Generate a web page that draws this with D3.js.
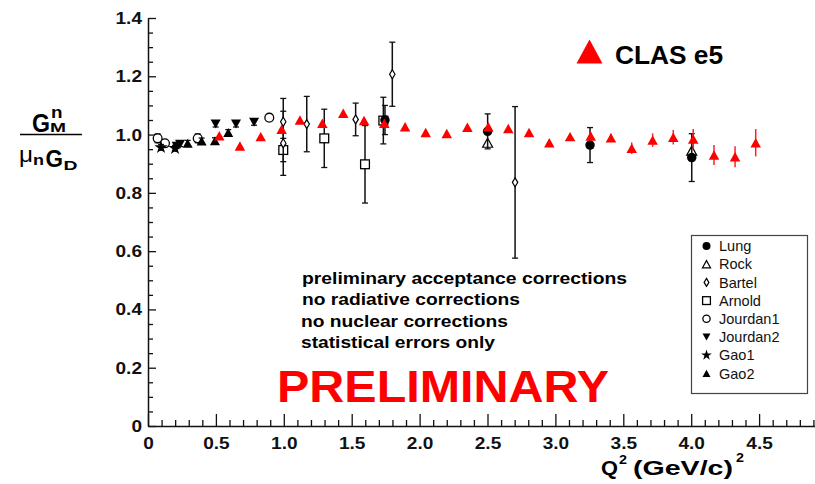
<!DOCTYPE html>
<html><head><meta charset="utf-8">
<script src="https://cdn.jsdelivr.net/npm/d3@7"></script>
<style>
html,body{margin:0;padding:0;background:#fff;}
svg{display:block;font-family:"Liberation Sans",Arial,Helvetica,sans-serif;}
</style></head><body>
<svg id="chart" width="815" height="484"></svg>
<script>
// G_M^n / (mu_n G_D) versus Q^2 (GeV/c)^2

// CLAS e5 (red triangles)
const clasQ2  = [0.525, 0.677, 0.830, 0.984, 1.119, 1.284, 1.438, 1.591, 1.740, 1.893, 2.045, 2.200, 2.352, 2.506, 2.653, 2.806, 2.955, 3.108, 3.260, 3.409, 3.562, 3.716, 3.868, 4.015, 4.168, 4.323, 4.475];
const clasVal = [0.996, 0.961, 0.993, 1.018, 1.050, 1.039, 1.073, 1.048, 1.039, 1.027, 1.007, 1.004, 1.025, 1.027, 1.021, 1.007, 0.972, 0.993, 0.995, 0.989, 0.953, 0.981, 0.991, 0.985, 0.930, 0.924, 0.972];
const clasErr = [0.004, 0.004, 0.004, 0.004, 0.005, 0.005, 0.005, 0.005, 0.006, 0.006, 0.006, 0.007, 0.007, 0.008, 0.008, 0.009, 0.010, 0.011, 0.012, 0.014, 0.020, 0.023, 0.025, 0.034, 0.034, 0.036, 0.047];

// World data
const lungQ2  = [1.745, 2.501, 3.255, 4.004];
const lungVal = [1.050, 1.011, 0.964, 0.921];
const lungErr = [0.050, 0.060, 0.060, 0.082];

const rockQ2  = [2.501, 4.004];
const rockVal = [0.972, 0.945];
const rockErr = [0.000, 0.000];

const bartelQ2  = [0.996, 0.996, 1.169, 1.529, 1.799, 2.703];
const bartelVal = [1.044, 0.970, 1.036, 1.052, 1.207, 0.836];
const bartelErr = [0.080, 0.110, 0.095, 0.056, 0.110, 0.260];

const arnoldQ2  = [0.996, 1.298, 1.598, 1.733];
const arnoldVal = [0.947, 0.987, 0.898, 1.048];
const arnoldErr = [0.040, 0.100, 0.133, 0.080];

const jourdan1Q2  = [0.071, 0.125, 0.366, 0.893];
const jourdan1Val = [0.987, 0.970, 0.987, 1.058];
const jourdan1Err = [0.015, 0.010, 0.015, 0.010];

const jourdan2Q2  = [0.211, 0.236, 0.498, 0.648, 0.781];
const jourdan2Val = [0.960, 0.967, 1.036, 1.036, 1.042];
const jourdan2Err = [0.008, 0.008, 0.010, 0.010, 0.010];

const gao1Q2  = [0.096, 0.199];
const gao1Val = [0.956, 0.953];
const gao1Err = [0.010, 0.010];

const gao2Q2  = [0.292, 0.395, 0.493, 0.591];
const gao2Val = [0.970, 0.978, 0.979, 1.007];
const gao2Err = [0.010, 0.010, 0.010, 0.010];

const legendNames = ["Lung", "Rock", "Bartel", "Arnold", "Jourdan1", "Jourdan2", "Gao1", "Gao2"];
const xMajorTicks = [0, 0.5, 1.0, 1.5, 2.0, 2.5, 3.0, 3.5, 4.0, 4.5];
const yMajorTicks = [0, 0.2, 0.4, 0.6, 0.8, 1.0, 1.2, 1.4];
const notes = ["preliminary acceptance corrections", "no radiative corrections", "no nuclear corrections", "statistical errors only"];

const svg = d3.select("#chart");
const x = d3.scaleLinear().domain([0, 5]).range([148, 148 + 5 * 135.8]);
const y = d3.scaleLinear().domain([0, 1.4]).range([426, 18]);
const ink = "#111";

function fit(sel, w) {
  sel.attr("textLength", w).attr("lengthAdjust", "spacingAndGlyphs");
}
function stretch(sel, k) {
  sel.each(function () {
    const L = this.getComputedTextLength();
    d3.select(this).attr("textLength", L * k).attr("lengthAdjust", "spacingAndGlyphs");
  });
}

// ---- axes ----
const xMinor = d3.range(0, 50).map(i => i / 10).filter(v => Math.abs(v * 2 - Math.round(v * 2)) > 1e-6);
const yMinor = d3.range(0, 29).map(i => i * 0.05).filter(v => Math.abs(v * 5 - Math.round(v * 5)) > 1e-6);
const fmt = v => v === 0 ? "0" : v.toFixed(1);

const gx = svg.append("g").attr("transform", "translate(0,426)");
gx.call(d3.axisBottom(x).tickValues(xMajorTicks).tickSize(-12).tickSizeOuter(0).tickPadding(11).tickFormat(fmt));
const gxm = svg.append("g").attr("transform", "translate(0,426)");
gxm.call(d3.axisBottom(x).tickValues(xMinor).tickSize(-6).tickSizeOuter(0).tickFormat(""));
gxm.select(".domain").remove();

const gy = svg.append("g").attr("transform", "translate(148,0)");
gy.call(d3.axisLeft(y).tickValues(yMajorTicks).tickSize(-8).tickSizeOuter(0).tickPadding(6).tickFormat(fmt));
const gym = svg.append("g").attr("transform", "translate(148,0)");
gym.call(d3.axisLeft(y).tickValues(yMinor).tickSize(-5).tickSizeOuter(0).tickFormat(""));
gym.select(".domain").remove();

svg.selectAll(".domain").attr("stroke", ink).attr("stroke-width", 1.5);
svg.selectAll(".tick line").attr("stroke", ink).attr("stroke-width", 1.3);
svg.selectAll(".tick text").attr("font-size", 17).attr("font-weight", "bold").attr("fill", ink)
  .attr("font-family", "'Liberation Sans',Arial,sans-serif");
stretch(svg.selectAll(".tick text"), 1.12);

// ---- markers ----
function marker(g, type, cx, cy, s) {
  const t = `translate(${cx},${cy})`;
  switch (type) {
    case "dot":
      return g.append("circle").attr("cx", cx).attr("cy", cy).attr("r", s / 2).attr("fill", "#000");
    case "circle":
      return g.append("circle").attr("cx", cx).attr("cy", cy).attr("r", s / 2 - 0.6)
        .attr("fill", "#fff").attr("stroke", "#000").attr("stroke-width", 1.3);
    case "square":
      return g.append("rect").attr("x", cx - s / 2 + 0.6).attr("y", cy - s / 2 + 0.6)
        .attr("width", s - 1.2).attr("height", s - 1.2)
        .attr("fill", "#fff").attr("stroke", "#000").attr("stroke-width", 1.3);
    case "diamond":
      return g.append("path").attr("transform", t)
        .attr("d", `M0,${-s / 2}L${s * 0.3},0L0,${s / 2}L${-s * 0.3},0Z`)
        .attr("fill", "#fff").attr("stroke", "#000").attr("stroke-width", 1.2);
    case "tri":
    case "triOpen":
    case "triRed":
    case "triDown": {
      const h = s * 0.9, w = s;
      const pts = type === "triDown"
        ? `M${-w / 2},${-h / 2}L${w / 2},${-h / 2}L0,${h / 2}Z`
        : `M0,${-h / 2}L${w / 2},${h / 2}L${-w / 2},${h / 2}Z`;
      const p = g.append("path").attr("transform", t).attr("d", pts);
      if (type === "triOpen") p.attr("fill", "#fff").attr("stroke", "#000").attr("stroke-width", 1.2);
      else if (type === "triRed") p.attr("fill", "#ff0000");
      else p.attr("fill", "#000");
      return p;
    }
    case "star":
      return g.append("path").attr("transform", t)
        .attr("d", d3.symbol().type(d3.symbolStar).size(s * s * 0.55)()).attr("fill", "#000");
  }
}

function series(q2, val, err, type, size, color, caps) {
  const g = svg.append("g");
  q2.forEach((q, i) => {
    const cx = x(q), cy = y(val[i]);
    if (err[i] > 0) {
      const y1 = y(val[i] - err[i]), y2 = y(val[i] + err[i]);
      g.append("line").attr("x1", cx).attr("x2", cx).attr("y1", y1).attr("y2", y2)
        .attr("stroke", color).attr("stroke-width", 1.5);
      if (caps) {
        [y1, y2].forEach(yy => g.append("line").attr("x1", cx - 3).attr("x2", cx + 3)
          .attr("y1", yy).attr("y2", yy).attr("stroke", color).attr("stroke-width", 1.3));
      }
    }
  });
  q2.forEach((q, i) => marker(g, type, x(q), y(val[i]), size));
}

series(jourdan1Q2, jourdan1Val, jourdan1Err, "circle", 10, ink, true);
series(gao1Q2, gao1Val, gao1Err, "star", 10, ink, true);
series(jourdan2Q2, jourdan2Val, jourdan2Err, "triDown", 10, ink, true);
series(gao2Q2, gao2Val, gao2Err, "tri", 10, ink, true);
series(arnoldQ2, arnoldVal, arnoldErr, "square", 10, ink, true);
series(bartelQ2, bartelVal, bartelErr, "diamond", 9, ink, true);
series(rockQ2, rockVal, rockErr, "triOpen", 10, ink, true);
series(lungQ2, lungVal, lungErr, "dot", 9.5, ink, true);
series(clasQ2, clasVal, clasErr, "triRed", 10.5, "#ff2020", false);

// ---- CLAS e5 key ----
marker(svg, "triRed", 589.5, 51.5, 26).attr("d", "M0,-12L13,12L-13,12Z");
svg.append("text").attr("x", 615).attr("y", 63.5).attr("font-size", 25.5).attr("font-weight", "bold")
  .attr("fill", "#000").text("CLAS e5").call(fit, 108);

// ---- legend box ----
const lg = svg.append("g");
lg.append("rect").attr("x", 691.5).attr("y", 235.5).attr("width", 116).attr("height", 158)
  .attr("fill", "#fff").attr("stroke", "#444").attr("stroke-width", 1.2);
const legendTypes = ["dot", "triOpen", "diamond", "square", "circle", "triDown", "star", "tri"];
const legendSizes = [8, 8, 8, 9, 8.5, 8, 8, 8];
legendNames.forEach((name, i) => {
  const cy = 246 + i * 18.2;
  marker(lg, legendTypes[i], 706.5, cy, legendSizes[i]);
  lg.append("text").attr("x", 719).attr("y", cy + 5.2).attr("font-size", 14.5).attr("fill", "#111").text(name);
});

// ---- notes ----
const noteWidths = [325, 218, 207, 194];
const noteX = [302, 302, 301, 301];
notes.forEach((t, i) => {
  svg.append("text").attr("x", noteX[i]).attr("y", 283.5 + i * 21.5).attr("font-size", 16.5)
    .attr("font-weight", "bold").attr("fill", "#000").text(t).call(fit, noteWidths[i]);
});
svg.append("text").attr("x", 277).attr("y", 402).attr("font-size", 45).attr("font-weight", "bold")
  .attr("fill", "#ff0000").text("PRELIMINARY").call(fit, 332);

// ---- y-axis title: G_M^n / (mu_n G_D) ----
const yt = svg.append("g").attr("font-weight", "bold").attr("fill", "#000");
yt.append("text").attr("x", 32).attr("y", 131.5).attr("font-size", 25).text("G").call(fit, 18);
yt.append("text").attr("x", 51).attr("y", 118).attr("font-size", 16).text("n").call(fit, 11.5);
yt.append("text").attr("x", 50).attr("y", 132).attr("font-size", 12.5).text("M").call(fit, 16);
yt.append("line").attr("x1", 20).attr("x2", 82).attr("y1", 134.5).attr("y2", 134.5)
  .attr("stroke", "#000").attr("stroke-width", 1.6);
yt.append("text").attr("x", 19).attr("y", 162).attr("font-size", 22).attr("font-weight", "normal").text("μ").call(fit, 14);
yt.append("text").attr("x", 33).attr("y", 165).attr("font-size", 14).text("n").call(fit, 11);
yt.append("text").attr("x", 45.5).attr("y", 166.5).attr("font-size", 23.5).text("G").call(fit, 17.5);
yt.append("text").attr("x", 63.5).attr("y", 169.5).attr("font-size", 13).text("D").call(fit, 14);

// ---- x-axis title: Q^2 (GeV/c)^2 ----
const xt = svg.append("g").attr("font-weight", "bold").attr("fill", "#000");
xt.append("text").attr("x", 601).attr("y", 475).attr("font-size", 21).text("Q").call(fit, 17);
xt.append("text").attr("x", 619).attr("y", 464).attr("font-size", 13).text("2").call(fit, 8);
xt.append("text").attr("x", 633).attr("y", 475).attr("font-size", 21).text("(GeV/c)").call(fit, 100);
xt.append("text").attr("x", 736).attr("y", 462).attr("font-size", 13).text("2").call(fit, 8);
</script>
</body></html>
